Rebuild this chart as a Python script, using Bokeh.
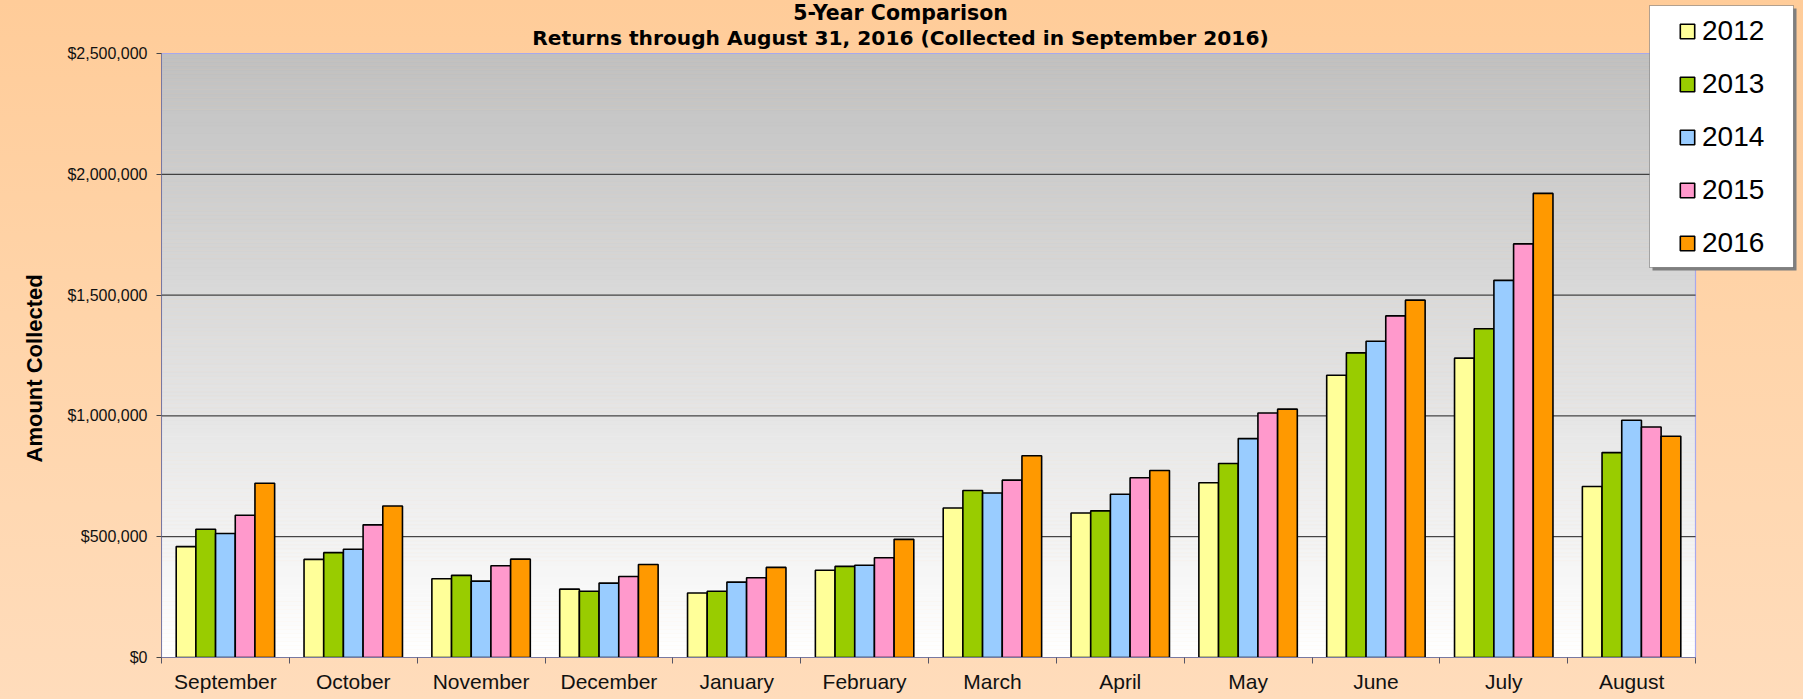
import math
import numpy as np
from bokeh.plotting import figure
from bokeh.models import (ColumnDataSource, Range1d, LinearAxis, FixedTicker, Title,
                          NumeralTickFormatter, Legend, LegendItem, Label, BoxAnnotation)
from bokeh.transform import dodge
from bokeh.embed import file_html
from bokeh.resources import INLINE

# ---------------- data ----------------
months = ["September", "October", "November", "December", "January", "February",
          "March", "April", "May", "June", "July", "August"]
years = ["2012", "2013", "2014", "2015", "2016"]
v2012 = [459000, 406000, 326000, 283000, 267000, 361000, 619000, 598000, 723000, 1168000, 1239000, 708000]
v2013 = [531000, 434000, 340000, 274000, 274000, 377000, 691000, 607000, 803000, 1261000, 1361000, 848000]
v2014 = [513000, 448000, 316000, 308000, 312000, 382000, 681000, 676000, 906000, 1309000, 1561000, 982000]
v2015 = [589000, 549000, 380000, 335000, 330000, 413000, 734000, 744000, 1012000, 1414000, 1712000, 954000]
v2016 = [721000, 627000, 407000, 385000, 373000, 489000, 835000, 774000, 1028000, 1479000, 1921000, 916000]
bar_colors = ["#FFFF99", "#99CC00", "#99CCFF", "#FF99CC", "#FF9900"]
y_ticks = [0, 500000, 1000000, 1500000, 2000000, 2500000]
title_line1 = "5-Year Comparison"
title_line2 = "Returns through August 31, 2016 (Collected in September 2016)"
y_label = "Amount Collected"

series = [v2012, v2013, v2014, v2015, v2016]
centers = [i + 0.5 for i in range(len(months))]   # category slot centres
bounds = [i for i in range(len(months) + 1)]       # category slot edges
source = ColumnDataSource(data=dict(month=months, pos=centers, **{y: s for y, s in zip(years, series)}))

# ---------------- layout (pixels) ----------------
W, H = 1803, 699
LEFT, BOTTOM = 161, 42            # borders; frame runs to the top and right canvas edges
PLOT_W, PLOT_H = 1534, 604        # size of the grey plot area inside the frame
FRAME_W, FRAME_H = W - LEFT, H - BOTTOM
x_end = bounds[-1] * FRAME_W / PLOT_W
y_end = y_ticks[-1] * FRAME_H / PLOT_H

p = figure(width=W, height=H, output_backend="svg", toolbar_location=None,
           x_range=Range1d(bounds[0], x_end), y_range=Range1d(y_ticks[0], y_end),
           x_axis_type=None,
           min_border_left=LEFT, min_border_right=0, min_border_top=0, min_border_bottom=BOTTOM)
p.border_fill_color = None
p.background_fill_color = None
p.styles = {"background": "linear-gradient(180deg, #FFCC99 0%, #FFD4A9 45%, #FFDCBB 100%)"}
p.outline_line_color = None
p.xgrid.visible = False
p.ygrid.visible = False

# plot-area grey gradient (decoration)
n_bands = 150
edges = np.linspace(y_ticks[0], y_ticks[-1], n_bands + 1)
band_cols = []
for i in range(n_bands):
    f = (edges[i] + edges[i + 1]) / 2 / y_ticks[-1]
    g = int(round(255 - 63 * f))
    band_cols.append("#%02x%02x%02x" % (g, g, g))
bands = ColumnDataSource(data=dict(bottom=edges[:-1], top=edges[1:], color=band_cols))
p.quad(left=bounds[0], right=bounds[-1], bottom="bottom", top="top", fill_color="color",
       line_color="color", line_width=0.5, source=bands, level="image")
# plot-area border
p.quad(left=bounds[0], right=bounds[-1], bottom=y_ticks[0], top=y_ticks[-1],
       fill_color=None, line_color="#A8A8EC", line_width=1.2, level="image")

# horizontal gridlines restricted to the plot area
grid_src = ColumnDataSource(data=dict(y=y_ticks[1:-1]))
p.segment(x0=bounds[0], x1=bounds[-1], y0="y", y1="y", source=grid_src,
          line_color="#1e1e1e", line_width=1, level="underlay")

# bars
bw = 0.154
offsets = [-2 * bw, -bw, 0, bw, 2 * bw]
renderers = []
for y, c, off in zip(years, bar_colors, offsets):
    r = p.vbar(x=dodge("pos", off), top=y, width=bw, source=source,
               fill_color=c, line_color="black", line_width=1.6)
    renderers.append(r)

# y axis
yax = p.yaxis[0]
yax.ticker = FixedTicker(ticks=y_ticks)
yax.bounds = (y_ticks[0], y_ticks[-1])
yax.formatter = NumeralTickFormatter(format="$0,0")
yax.major_label_text_font = "Liberation Sans"
yax.major_label_text_font_size = "16px"
yax.major_label_text_color = "#111111"
yax.major_tick_out = 5
yax.major_tick_in = 0
yax.minor_tick_line_color = None
yax.major_label_standoff = 9
yax.axis_line_color = "#7878A0"
yax.major_tick_line_color = "#444444"

# y axis title on the left (aligned from the bottom of the frame)
p.add_layout(Title(text=y_label, align="left", offset=195, standoff=36,
                   text_font="Liberation Sans", text_font_style="bold",
                   text_font_size="22px", text_color="black"), "left")

# x axis: labels at slot centres, ticks at slot edges
xax = LinearAxis(ticker=FixedTicker(ticks=centers, minor_ticks=bounds),
                 bounds=(bounds[0], bounds[-1]),
                 major_label_overrides={c: m for c, m in zip(centers, months)})
xax.major_tick_line_color = None
xax.major_tick_out = 0
xax.major_tick_in = 0
xax.minor_tick_out = 6
xax.minor_tick_in = 0
xax.minor_tick_line_color = "#555566"
xax.axis_line_color = "#7878A0"
xax.major_label_text_font = "Liberation Sans"
xax.major_label_text_font_size = "21px"
xax.major_label_text_color = "#111111"
xax.major_label_standoff = 6
p.add_layout(xax, "below")

# chart titles (frame-relative screen units)
tx = 900 - LEFT
p.add_layout(Label(x=tx, y=FRAME_H - 12, x_units="screen", y_units="screen", text=title_line1,
                   text_align="center", text_baseline="middle", text_font="DejaVu Sans",
                   text_font_style="bold", text_font_size="20.5px", text_color="black"))
p.add_layout(Label(x=tx, y=FRAME_H - 37, x_units="screen", y_units="screen", text=title_line2,
                   text_align="center", text_baseline="middle", text_font="DejaVu Sans",
                   text_font_style="bold", text_font_size="20.2px", text_color="black"))

# legend box (shadow + white box)
p.add_layout(BoxAnnotation(left=1652, right=1796, top=8, bottom=270,
                           left_units="canvas", right_units="canvas", top_units="canvas", bottom_units="canvas",
                           fill_color="#7f7f7f", fill_alpha=1, line_color=None))
p.add_layout(BoxAnnotation(left=1649, right=1793, top=5, bottom=267,
                           left_units="canvas", right_units="canvas", top_units="canvas", bottom_units="canvas",
                           fill_color="white", fill_alpha=1, line_color="black", line_width=1))

legend = Legend(items=[LegendItem(label=y, renderers=[r]) for y, r in zip(years, renderers)],
                location=(1678 - LEFT, FRAME_H - 259), orientation="vertical", padding=0, margin=0,
                spacing=21, label_height=32, glyph_height=18, glyph_width=18, label_standoff=6,
                label_text_font="Liberation Sans", label_text_font_size="28px",
                label_text_color="black", label_text_baseline="alphabetic",
                border_line_color=None, background_fill_alpha=0)
p.add_layout(legend)

open("out.html", "w").write(file_html(p, INLINE))
